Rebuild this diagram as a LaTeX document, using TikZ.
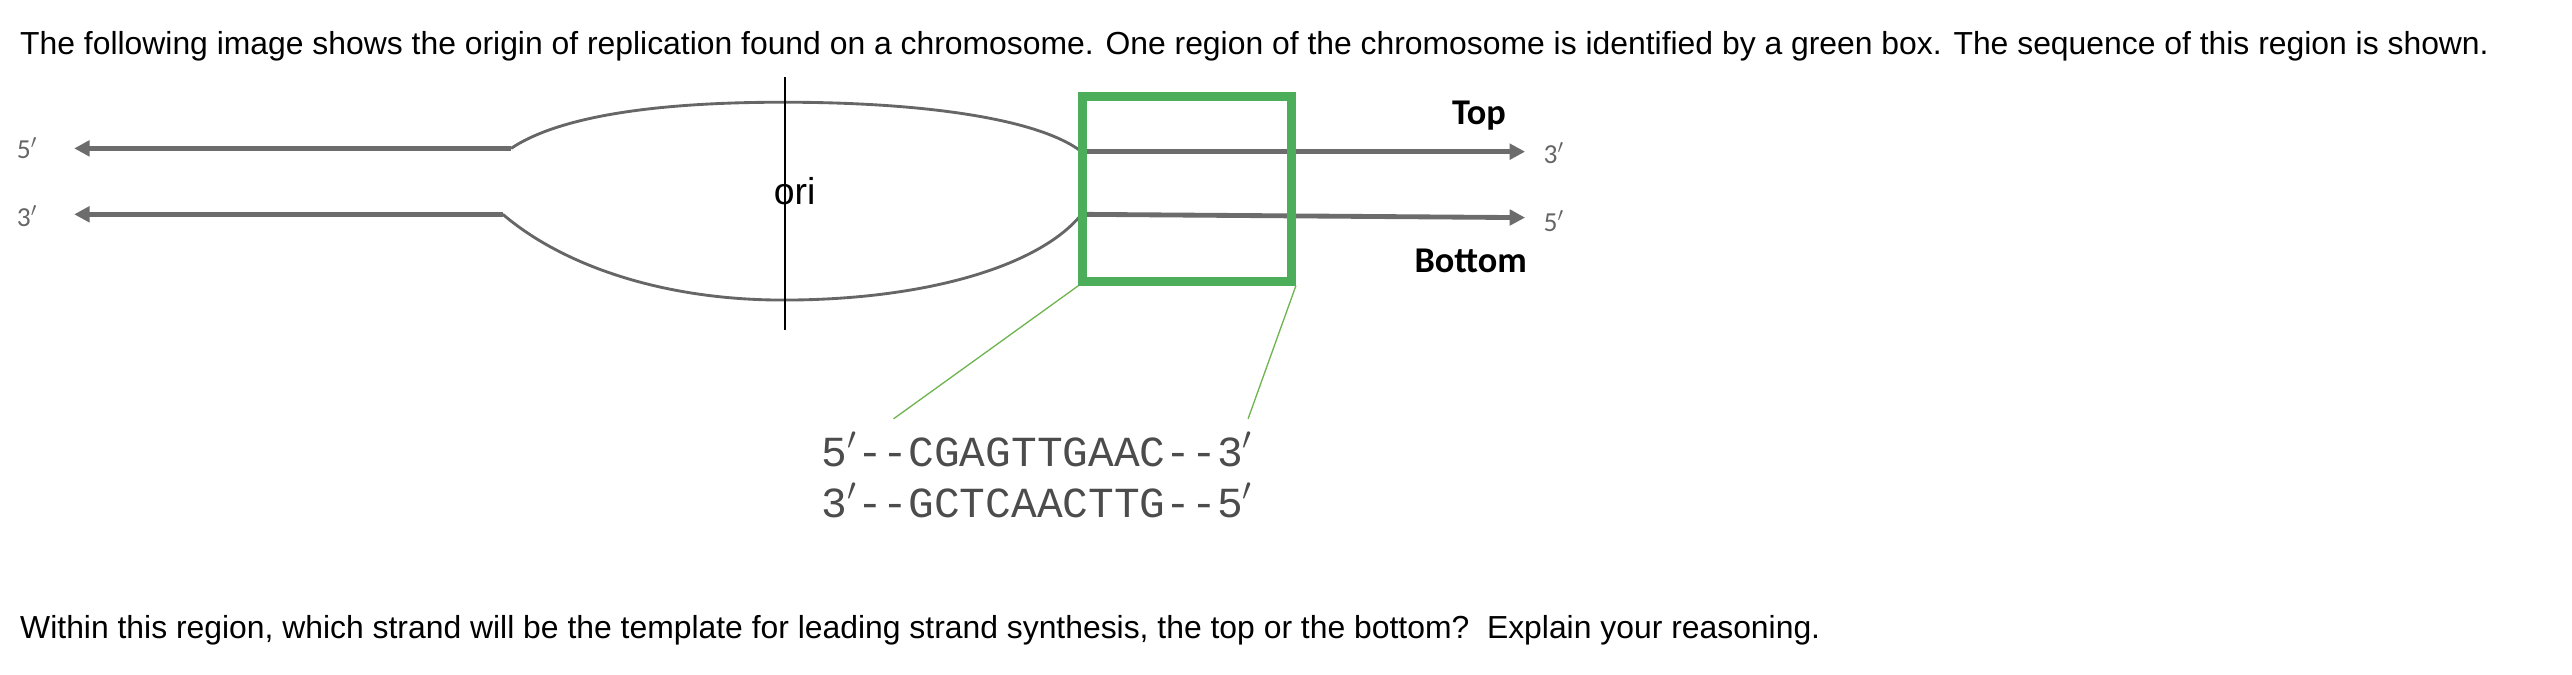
\documentclass[tikz,border=0pt]{standalone}
\usepackage{fontspec}
\setmainfont{Liberation Sans}
\newfontfamily\carlitof{Carlito}
\newfontfamily\monof{Liberation Mono}
\usetikzlibrary{arrows.meta}
\begin{document}
\begin{tikzpicture}[x=0.75pt,y=-0.75pt,
  strand/.style={draw=gray!85!black,line width=2.2pt,-{Triangle[length=7pt,width=7pt]}},
  bub/.style={draw=gray!80!black,line width=1.3pt},
  lbl/.style={font=\carlitof\fontsize{12.5}{12.5}\selectfont,text=gray!80!black,inner sep=0},
  txt/.style={font=\fontsize{14.5}{16}\selectfont,anchor=base west,inner sep=0}]
\useasboundingbox (0,0) rectangle (1560,409);
\node[txt] (title) at (12,33) {The following image shows the origin of replication found on a chromosome. One region of the chromosome is identified by a green box. The sequence of this region is shown.};
\coordinate (tl) at (310,90); \coordinate (bl) at (305,130);
\coordinate (tr) at (656,92); \coordinate (br) at (656,130);
\coordinate (tL) at (45,90); \coordinate (bL) at (45,130);
\coordinate (tR) at (925,92); \coordinate (bR) at (925,132);
\draw[strand] (tl) -- (tL);
\draw[strand] (bl) -- (bL);
\draw[bub] (tl) .. controls (340,70) and (400,62) .. (475,62) .. controls (560,62) and (630,72) .. (tr);
\draw[bub] (bl) .. controls (340,160) and (400,182) .. (475,182) .. controls (560,182) and (630,162) .. (br);
\draw[strand] (tr) -- (tR);
\draw[strand] (br) -- (bR);
\coordinate (vt) at (476,47); \coordinate (vb) at (476,200);
\draw[line width=0.9pt] (vt) -- (vb);
\node[font=\fontsize{17}{17}\selectfont,inner sep=0] (ori) at (482,116) {ori};
\node[lbl,anchor=west] (l5) at (10,90) {5$'$};
\node[lbl,anchor=west] (l3) at (10,131) {3$'$};
\node[lbl,anchor=west] (r3) at (936,93) {3$'$};
\node[lbl,anchor=west] (r5) at (936,134) {5$'$};
\node[font=\carlitof\bfseries\fontsize{16.5}{16.5}\selectfont,inner sep=0] (top) at (897,70) {Top};
\node[font=\carlitof\bfseries\fontsize{16.5}{16.5}\selectfont,inner sep=0] (bot) at (892,158) {Bottom};
\node[draw={rgb,255:red,76;green,173;blue,90},line width=4pt,minimum width=95pt,minimum height=84pt,inner sep=0,anchor=north west] (box) at (654,56) {};
\node[font=\monof\fontsize{19.5}{23}\selectfont,text=gray!60!black,align=left,anchor=north west,inner sep=0] (seq) at (498,262) {5$'$--CGAGTTGAAC--3$'$\\3$'$--GCTCAACTTG--5$'$};
\coordinate (s1) at (542,254); \coordinate (s2) at (757,254);
\draw[draw={rgb,255:red,110;green,180;blue,80},line width=0.6pt] (box.south west) -- (s1);
\draw[draw={rgb,255:red,110;green,180;blue,80},line width=0.6pt] (box.south east) -- (s2);
\node[txt] (q) at (12,387) {Within this region, which strand will be the template for leading strand synthesis, the top or the bottom?\ \ Explain your reasoning.};
\end{tikzpicture}
\end{document}
